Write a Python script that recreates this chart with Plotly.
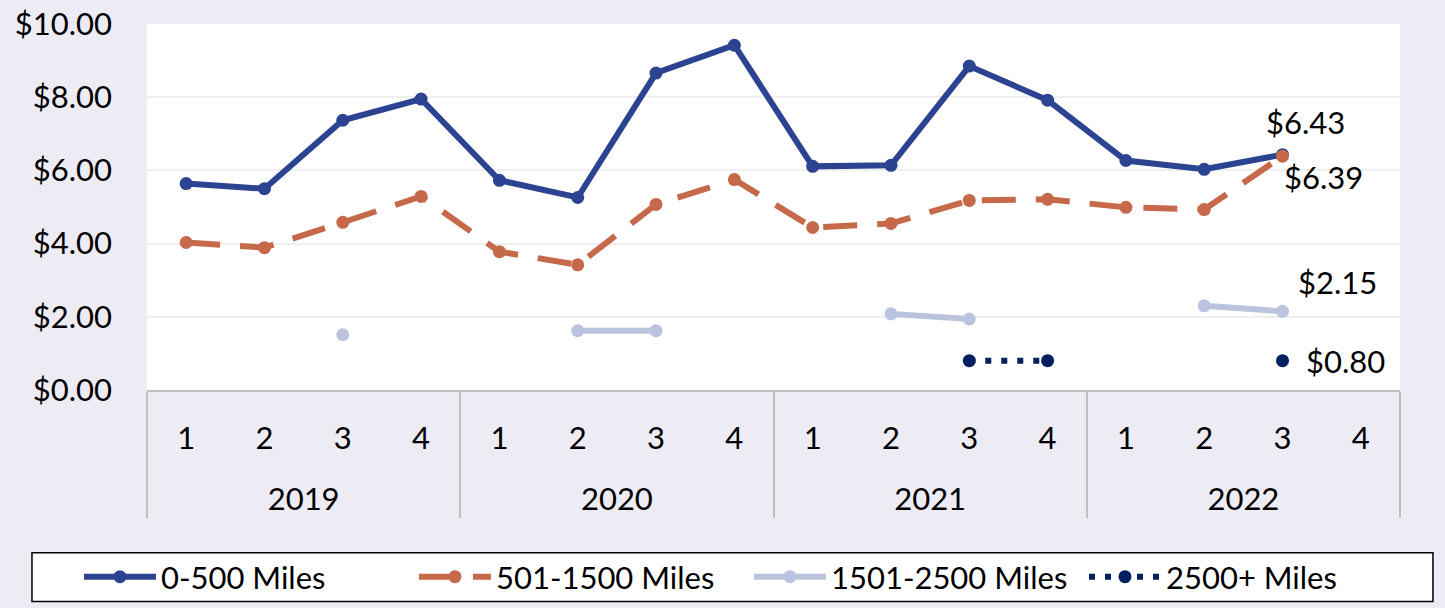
import plotly.graph_objects as go

years = ["2019", "2020", "2021", "2022"]
quarters = ["1", "2", "3", "4"]
# year labels sit one text line lower under the quarter labels
x_year = ["<br>" + y for y in years for q in quarters]
x_qtr = [q for y in years for q in quarters]

s_0_500 = [5.64, 5.50, 7.37, 7.95, 5.73, 5.26, 8.66, 9.42, 6.11, 6.14, 8.85, 7.92, 6.27, 6.03, 6.43, None]
s_501_1500 = [4.03, 3.89, 4.58, 5.29, 3.78, 3.42, 5.07, 5.75, 4.44, 4.55, 5.18, 5.21, 4.99, 4.93, 6.39, None]
s_1501_2500 = [None, None, 1.51, None, None, 1.62, 1.62, None, None, 2.08, 1.94, None, None, 2.30, 2.15, None]
s_2500_plus = [None, None, None, None, None, None, None, None, None, None, 0.80, 0.80, None, None, 0.80, None]

names = ["0-500 Miles", "501-1500 Miles", "1501-2500 Miles", "2500+ Miles"]
colors = ["#2B4391", "#C6694A", "#BCC3DF", "#002060"]
FONT = "Lato"
LAST = 14  # index of the labelled point (2022 Q3)

fig = go.Figure()
series = [s_0_500, s_501_1500, s_1501_2500, s_2500_plus]
dashes = ["solid", "34px,20px", "solid", "6px,10px"]
for vals, name, col, dash in zip(series, names, colors, dashes):
    fig.add_trace(go.Scatter(
        x=[x_year, x_qtr], y=vals, name=name,
        mode="lines+markers",
        line=dict(color=col, width=6, dash=dash),
        marker=dict(color=col, size=13),
        connectgaps=False, cliponaxis=False,
    ))

# data labels for the last point of each series (offsets in pixels)
label_shifts = [(23, 33), (41, -21), (55, 29), (63, 0)]
for vals, (dx, dy) in zip(series, label_shifts):
    fig.add_annotation(x=LAST, y=vals[LAST], xref="x", yref="y",
                       text=f"${vals[LAST]:.2f}", showarrow=False,
                       xanchor="center", yanchor="middle", xshift=dx, yshift=dy,
                       font=dict(family=FONT, size=31, color="#000000"))

fig.add_shape(type="rect", xref="paper", yref="paper",
              x0=-0.0918, x1=1.0263, y0=-0.578, y1=-0.445,
              line=dict(color="#000000", width=1.5), fillcolor="#FFFFFF", layer="below")

fig.update_layout(
    width=1445, height=608,
    margin=dict(l=147, r=45, t=24, b=218, autoexpand=False),
    paper_bgcolor="#EDEBF4", plot_bgcolor="#FFFFFF",
    font=dict(family=FONT, size=31, color="#000000"),
    showlegend=True,
    legend=dict(orientation="h", x=-0.0543, xanchor="left", y=-0.511, yanchor="middle",
                bgcolor="rgba(0,0,0,0)", borderwidth=0, font=dict(size=31, family=FONT),
                itemwidth=72, entrywidth=248, entrywidthmode="pixels", tracegroupgap=0),
    xaxis=dict(type="multicategory", range=[-0.5, 15.5], showline=True,
               linecolor="#BFBFBF", linewidth=2,
               showdividers=True, dividercolor="#BFBFBF", dividerwidth=2,
               showgrid=False, ticks="", ticklabelstandoff=20, automargin=False,
               tickfont=dict(size=31, family=FONT)),
    yaxis=dict(range=[0, 10], tickvals=[0, 2, 4, 6, 8, 10],
               ticktext=["$0.00", "$2.00", "$4.00", "$6.00", "$8.00", "$10.00"],
               showgrid=True, gridcolor="#EFEFEF", gridwidth=1.5, zeroline=False,
               showline=False, ticks="", ticklabelstandoff=34, automargin=False,
               tickfont=dict(size=31, family=FONT)),
)

fig.write_html("out.html", config={"displayModeBar": False},
               post_script="document.body.style.margin='0px';")
